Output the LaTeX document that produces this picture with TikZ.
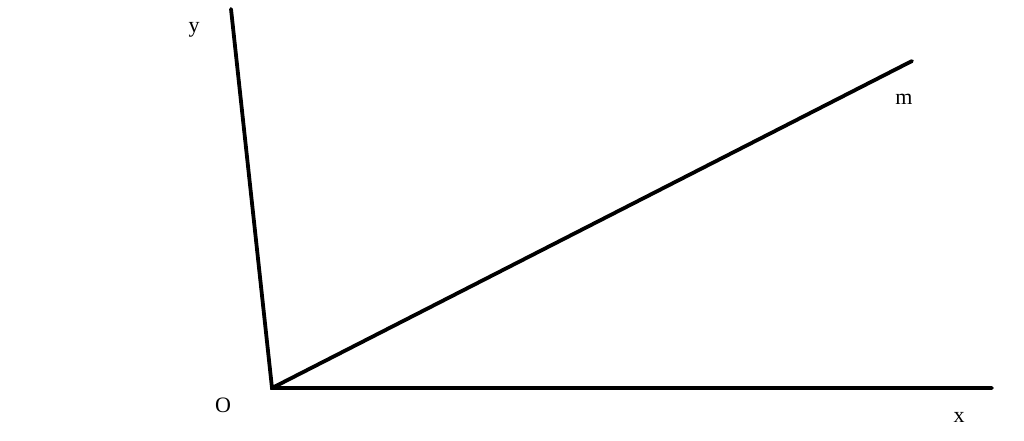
\documentclass[tikz,border=0pt]{standalone}
\usepackage{fontspec}
\setmainfont{Liberation Serif}
\begin{document}
\begin{tikzpicture}[x=1pt,y=-1pt,
        axis/.style={line width=3.8pt,line cap=round},
        lbl/.style={font=\fontsize{22}{26}\selectfont,inner sep=0pt}]
        \useasboundingbox (0,0) rectangle (1024,441);
        \coordinate (O) at (272,388);
        \coordinate (ytop) at (231,9);
        \coordinate (xend) at (992,388);
        \coordinate (mend) at (912,61);
        \draw[axis] (ytop) -- (O) -- (xend);
        \draw[axis] (O) -- (mend);
        \node[lbl] (ylbl) at (194,30) {y};
        \node[lbl] (olbl) at (223,405) {O};
        \node[lbl] (mlbl) at (904,99) {m};
        \node[lbl] (xlbl) at (959,417) {x};
    \end{tikzpicture}
\end{document}
